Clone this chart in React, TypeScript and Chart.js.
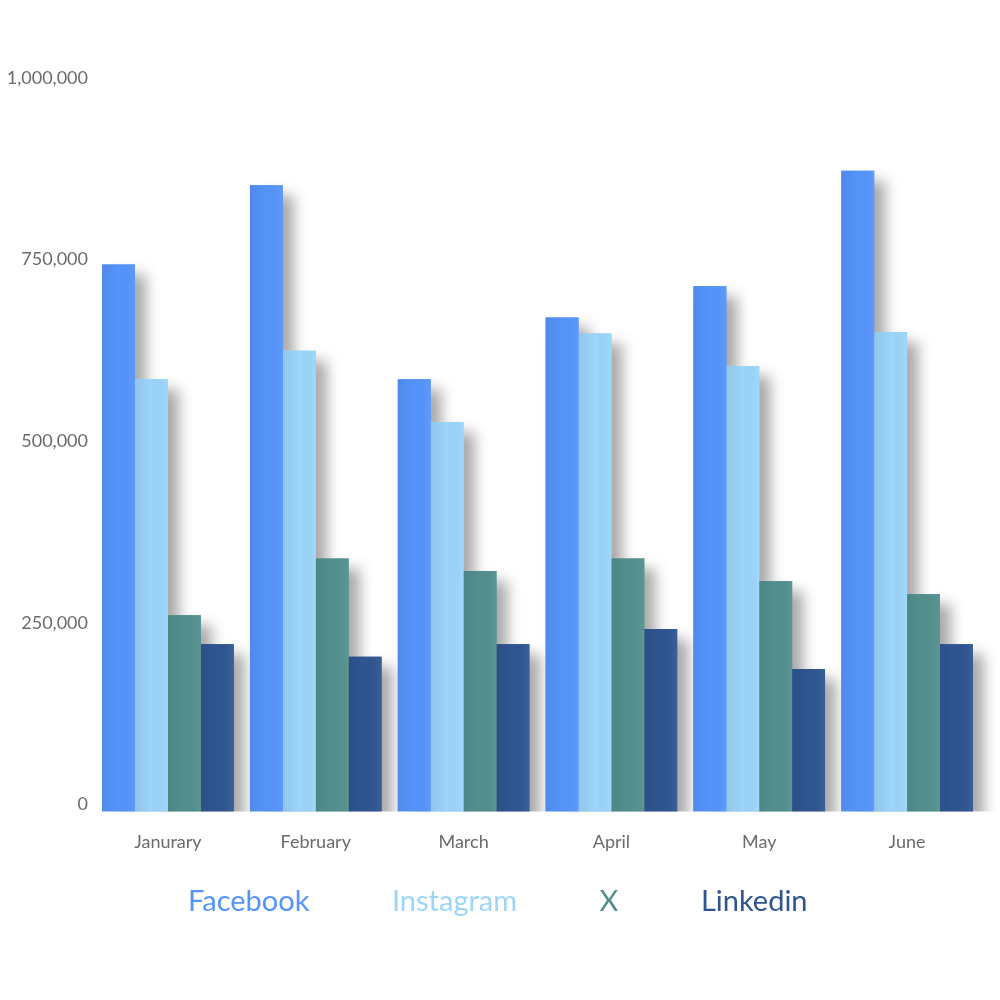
import React, { useEffect, useRef } from "react";
import { Chart, registerables } from "chart.js";

Chart.register(...registerables);

const months = ["Janurary", "February", "March", "April", "May", "June"];
const facebook = [753000, 862000, 595000, 680000, 723000, 882000];
const instagram = [595000, 634000, 536000, 658000, 613000, 660000];
const xSeries = [270000, 348000, 331000, 348000, 317000, 299000];
const linkedin = [230000, 213000, 230000, 251000, 196000, 230000];
const yTicks = [0, 250000, 500000, 750000, 1000000];

const seriesNames = ["Facebook", "Instagram", "X", "Linkedin"];
const seriesColors = ["#5594fb", "#9bd5fa", "#52908e", "#2f5591"];

// shadow pass: draw every bar once with a drop shadow, then let Chart.js draw clean bars over it
const shadowPlugin = {
  id: "barShadow",
  beforeDatasetsDraw(chart: any) {
    const ctx = chart.ctx;
    const a = chart.chartArea;
    ctx.save();
    ctx.beginPath();
    ctx.rect(a.left, a.top - 50, a.right - a.left + 30, a.bottom - a.top + 50);
    ctx.clip();
    ctx.shadowColor = "rgba(0,0,0,0.34)";
    ctx.shadowBlur = 14;
    ctx.shadowOffsetX = 11;
    ctx.shadowOffsetY = 10;
    chart.getSortedVisibleDatasetMetas().forEach((meta: any) => {
      meta.data.forEach((el: any) => el.draw(ctx));
    });
    ctx.restore();
  },
  afterDatasetsDraw(chart: any) {
    // subtle left-to-right shading on each bar
    const ctx = chart.ctx;
    ctx.save();
    chart.getSortedVisibleDatasetMetas().forEach((meta: any) => {
      meta.data.forEach((el: any) => {
        const w = el.width;
        const left = el.x - w / 2;
        const g = ctx.createLinearGradient(left, 0, left + w, 0);
        g.addColorStop(0, "rgba(0,0,0,0.07)");
        g.addColorStop(0.5, "rgba(0,0,0,0)");
        g.addColorStop(1, "rgba(255,255,255,0.06)");
        ctx.fillStyle = g;
        ctx.fillRect(left, el.y, w, el.base - el.y);
      });
    });
    ctx.restore();
  },
};

// move the legend row up so it sits closer to the category labels
const legendShift = {
  id: "legendShift",
  beforeDraw(chart: any) {
    if (chart.legend) {
      const h = chart.legend.height;
      chart.legend.top = chart.chartArea.bottom + 8;
      chart.legend.bottom = chart.legend.top + h;
    }
  },
};

export default function App() {
  const ref = useRef<HTMLCanvasElement | null>(null);

  useEffect(() => {
    document.body.style.margin = "0";
    const canvas = ref.current;
    if (!canvas) return;
    const values = [facebook, instagram, xSeries, linkedin];
    const chart = new Chart(canvas, {
      type: "bar",
      data: {
        labels: months,
        datasets: values.map((v, i) => ({
          label: seriesNames[i],
          data: v,
          backgroundColor: seriesColors[i],
          borderWidth: 0,
          barPercentage: 1,
          categoryPercentage: 0.89,
        })),
      },
      options: {
        animation: false,
        responsive: false,
        maintainAspectRatio: false,
        layout: { padding: { left: 0, right: 19, top: 85, bottom: 28 } },
        plugins: {
          tooltip: { enabled: false },
          legend: {
            position: "bottom",
            labels: {
              boxWidth: 0,
              boxHeight: 0,
              padding: 68,
              font: { family: "Lato", size: 29 },
              generateLabels: (c: any) =>
                c.data.datasets.map((d: any, i: number) => ({
                  text: d.label,
                  fillStyle: "rgba(0,0,0,0)",
                  strokeStyle: "rgba(0,0,0,0)",
                  lineWidth: 0,
                  fontColor: seriesColors[i],
                  hidden: false,
                  datasetIndex: i,
                })),
            },
          },
        },
        scales: {
          x: {
            grid: { display: false },
            border: { display: false },
            ticks: {
              color: "#6b6b6b",
              font: { family: "Lato", size: 18 },
              padding: 12,
            },
          },
          y: {
            min: 0,
            max: 1000000,
            afterBuildTicks: (s: any) => {
              s.ticks = yTicks.map((v) => ({ value: v }));
            },
            afterFit: (s: any) => {
              s.width = 94;
            },
            grid: { display: false, drawTicks: false },
            border: { display: false },
            ticks: {
              color: "#6b6b6b",
              font: { family: "Lato", size: 18 },
              padding: 6,
              labelOffset: -7,
            },
          },
        },
      },
      plugins: [shadowPlugin, legendShift],
    });
    return () => chart.destroy();
  }, []);

  return (
    <div style={{ position: "absolute", left: 0, top: 0, width: 1000, height: 1000, background: "#fff" }}>
      <canvas ref={ref} width={1000} height={1000} style={{ width: 1000, height: 1000 }} />
    </div>
  );
}
